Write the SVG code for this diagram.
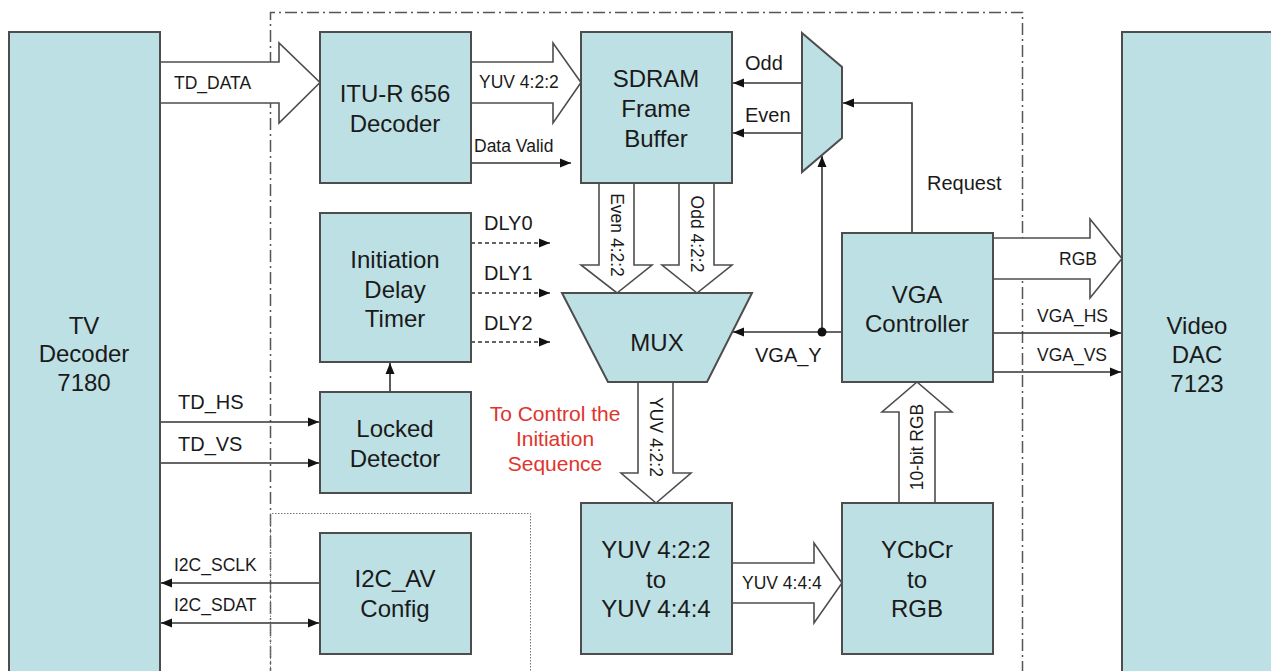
<svg xmlns="http://www.w3.org/2000/svg" width="1271" height="671" viewBox="0 0 1271 671">
<style>
.box{fill:#bde0e4;stroke:#4d4d4d;stroke-width:2}
.bt{font-family:"Liberation Sans",Arial,sans-serif;font-size:24px;fill:#1a1a1a;text-anchor:middle;dominant-baseline:central}
.lb{font-family:"Liberation Sans",Arial,sans-serif;font-size:17.5px;fill:#1a1a1a;dominant-baseline:central}
.lb2{font-family:"Liberation Sans",Arial,sans-serif;font-size:20px;fill:#1a1a1a;dominant-baseline:central}
.red{font-family:"Liberation Sans",Arial,sans-serif;font-size:21px;fill:#e0342c;text-anchor:middle;dominant-baseline:central}
.ln{fill:none;stroke:#333;stroke-width:1.6}
.dl{fill:none;stroke:#333;stroke-width:1.4;stroke-dasharray:4 3}
.ba{fill:#fff;stroke:#4d4d4d;stroke-width:1.6}
</style>
<defs>
<marker id="ah" markerUnits="userSpaceOnUse" markerWidth="12" markerHeight="10" refX="11" refY="5" orient="auto-start-reverse">
<path d="M0,0.5 L11,5 L0,9.5 z" fill="#111"/>
</marker>
</defs>
<rect width="1271" height="671" fill="#fff"/>
<g id="borders">
<path d="M270.5,680 V12.5 H1022.5 V680" fill="none" stroke="#555" stroke-width="1.5" stroke-dasharray="12 4 2 4"/>
<path d="M270.5,680 V513.5 H530.5 V680" fill="none" stroke="#777" stroke-width="1" stroke-dasharray="1.5 1.5"/>
</g>
<g id="connectors">
<polygon class="ba" points="160,62 279,62 279,43 320,82.5 279,123 279,103 160,103"/>
<polygon class="ba" points="471,62 553,62 553,43 581,82.5 553,123 553,103 471,103"/>
<polygon class="ba" points="599,183 599,265 581,265 617,293 652,265 634,265 634,183"/>
<polygon class="ba" points="679,183 679,265 662,265 697,293 732,265 714,265 714,183"/>
<polygon class="ba" points="638,382 638,473 621,473 656,503 691,473 673,473 673,382"/>
<polygon class="ba" points="732,563 814,563 814,543 842,583 814,623 814,603 732,603"/>
<polygon class="ba" points="899,503 899,412 882,412 917,382 952,412 935,412 935,503"/>
<polygon class="ba" points="993,238 1090,238 1090,219 1122,258.5 1090,298 1090,279 993,279"/>
<path class="ln" d="M471,163 H571" marker-end="url(#ah)"/>
<path class="ln" d="M802,83 H733" marker-end="url(#ah)"/>
<path class="ln" d="M802,133 H733" marker-end="url(#ah)"/>
<path class="ln" d="M912,233 V103 H843" marker-end="url(#ah)"/>
<path class="ln" d="M842,332 H733" marker-end="url(#ah)"/>
<path class="ln" d="M822,332 V156" marker-end="url(#ah)"/>
<circle cx="822" cy="332" r="4.5" fill="#111"/>
<path class="dl" d="M471,243 H550" marker-end="url(#ah)"/>
<path class="dl" d="M471,293 H550" marker-end="url(#ah)"/>
<path class="dl" d="M471,342 H550" marker-end="url(#ah)"/>
<path class="ln" d="M390,392 V363" marker-end="url(#ah)"/>
<path class="ln" d="M160,422 H319" marker-end="url(#ah)"/>
<path class="ln" d="M160,463 H319" marker-end="url(#ah)"/>
<path class="ln" d="M320,583 H161" marker-end="url(#ah)"/>
<path class="ln" d="M161,623 H319" marker-start="url(#ah)" marker-end="url(#ah)"/>
<path class="ln" d="M993,333 H1121" marker-end="url(#ah)"/>
<path class="ln" d="M993,372 H1121" marker-end="url(#ah)"/>
</g>
<g id="connector-labels">
<text class="lb" x="174" y="83">TD_DATA</text>
<text class="lb" x="479" y="82">YUV 4:2:2</text>
<text class="lb" x="474" y="146">Data Valid</text>
<text class="lb2" x="745" y="63">Odd</text>
<text class="lb2" x="745" y="115">Even</text>
<text class="lb2" x="927" y="183">Request</text>
<text class="lb2" x="755" y="355">VGA_Y</text>
<text class="lb2" x="484" y="223">DLY0</text>
<text class="lb2" x="484" y="273">DLY1</text>
<text class="lb2" x="484" y="323">DLY2</text>
<text class="lb2" x="178" y="402">TD_HS</text>
<text class="lb2" x="178" y="444">TD_VS</text>
<text class="lb" x="174" y="565">I2C_SCLK</text>
<text class="lb" x="174" y="605">I2C_SDAT</text>
<text class="lb" x="742" y="583">YUV 4:4:4</text>
<text class="lb" x="1059" y="259">RGB</text>
<text class="lb" x="1037" y="316">VGA_HS</text>
<text class="lb" x="1037" y="355">VGA_VS</text>
<text class="lb" text-anchor="middle" transform="translate(617,235) rotate(90)">Even 4:2:2</text>
<text class="lb" text-anchor="middle" transform="translate(697,234) rotate(90)">Odd 4:2:2</text>
<text class="lb" text-anchor="middle" transform="translate(656,437) rotate(90)">YUV 4:2:2</text>
<text class="lb" text-anchor="middle" transform="translate(917,447) rotate(-90)">10-bit RGB</text>
<text class="red" x="555" y="413">To Control the</text>
<text class="red" x="555" y="438">Initiation</text>
<text class="red" x="555" y="463">Sequence</text>
</g>
<g id="tv-decoder">
<rect class="box" x="9" y="32" width="151" height="660"/>
<text class="bt" x="84" y="325">TV</text>
<text class="bt" x="84" y="353">Decoder</text>
<text class="bt" x="84" y="382">7180</text>
</g>
<g id="video-dac">
<rect class="box" x="1122" y="32" width="160" height="660"/>
<text class="bt" x="1197" y="325">Video</text>
<text class="bt" x="1197" y="354">DAC</text>
<text class="bt" x="1197" y="383">7123</text>
</g>
<g id="itu-decoder">
<rect class="box" x="320" y="32" width="151" height="151"/>
<text class="bt" x="395" y="93">ITU-R 656</text>
<text class="bt" x="395" y="123">Decoder</text>
</g>
<g id="sdram">
<rect class="box" x="581" y="32" width="151" height="151"/>
<text class="bt" x="656" y="78">SDRAM</text>
<text class="bt" x="656" y="108">Frame</text>
<text class="bt" x="656" y="138">Buffer</text>
</g>
<g id="field-mux">
<polygon class="box" points="802,33 842,67 842,138 802,172"/>
</g>
<g id="init-delay-timer">
<rect class="box" x="320" y="213" width="151" height="149"/>
<text class="bt" x="395" y="259">Initiation</text>
<text class="bt" x="395" y="289">Delay</text>
<text class="bt" x="395" y="318">Timer</text>
</g>
<g id="mux">
<polygon class="box" points="562,293 752,293 707,382 608,382"/>
<text class="bt" x="657" y="342">MUX</text>
</g>
<g id="vga-controller">
<rect class="box" x="842" y="233" width="151" height="149"/>
<text class="bt" x="917" y="294">VGA</text>
<text class="bt" x="917" y="323">Controller</text>
</g>
<g id="locked-detector">
<rect class="box" x="320" y="392" width="151" height="101"/>
<text class="bt" x="395" y="428">Locked</text>
<text class="bt" x="395" y="458">Detector</text>
</g>
<g id="i2c-av-config">
<rect class="box" x="320" y="533" width="151" height="121"/>
<text class="bt" x="395" y="578">I2C_AV</text>
<text class="bt" x="395" y="608">Config</text>
</g>
<g id="yuv422-to-444">
<rect class="box" x="581" y="503" width="151" height="151"/>
<text class="bt" x="656" y="549">YUV 4:2:2</text>
<text class="bt" x="656" y="579">to</text>
<text class="bt" x="656" y="608">YUV 4:4:4</text>
</g>
<g id="ycbcr-to-rgb">
<rect class="box" x="842" y="503" width="151" height="151"/>
<text class="bt" x="917" y="549">YCbCr</text>
<text class="bt" x="917" y="579">to</text>
<text class="bt" x="917" y="608">RGB</text>
</g>
</svg>
